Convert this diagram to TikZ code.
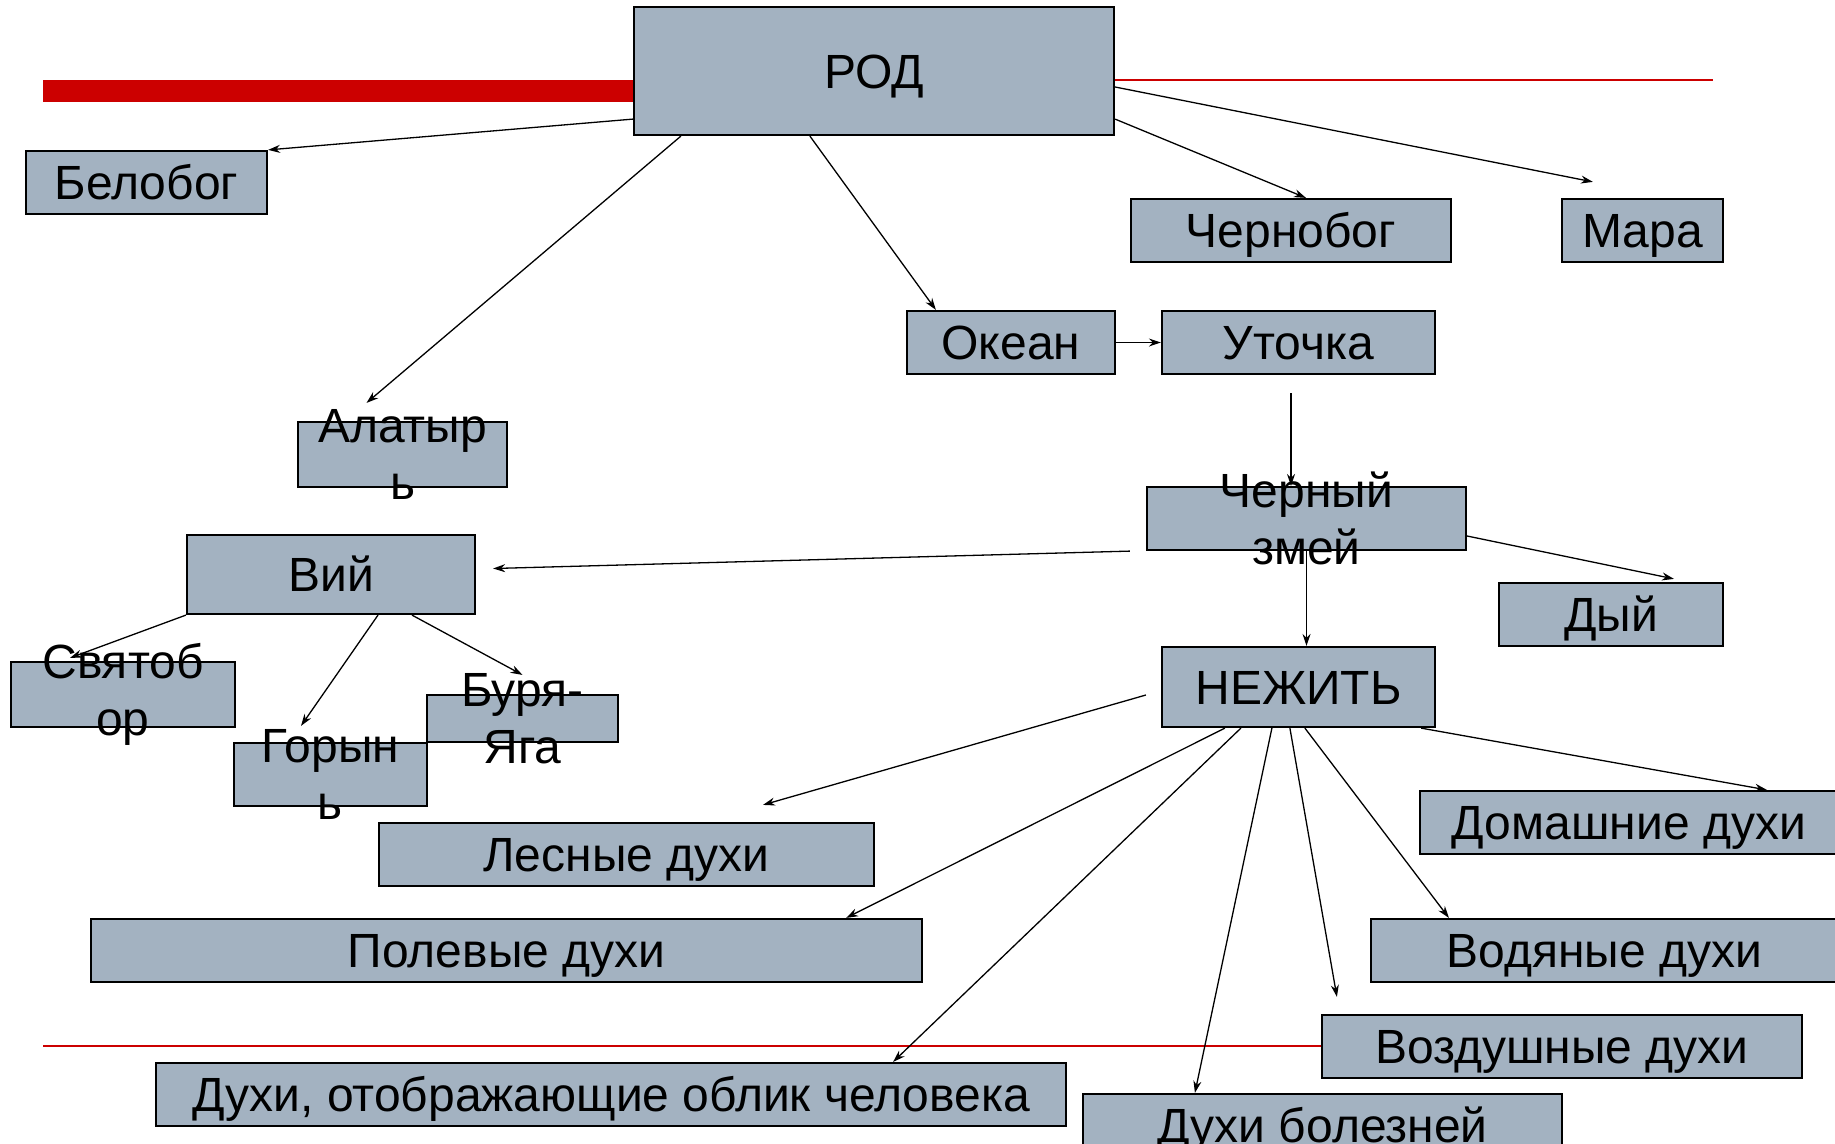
\documentclass[tikz,border=0pt]{standalone}
\usepackage{fontspec}
\setmainfont{Liberation Sans}
\usepackage{tikz}
\usetikzlibrary{arrows.meta,calc}
\definecolor{boxgray}{HTML}{A3B2C1}
\definecolor{slidered}{HTML}{CC0000}

\begin{document}
\begin{tikzpicture}[
    x=1pt, y=-1pt,
    every node/.style = {font=\fontsize{48}{57}\selectfont},
    box/.style = {draw, fill=boxgray, line width=2.2pt, inner sep=0pt, minimum height=63pt,
                  text height=34.5pt, text depth=0pt},
    wrap/.style = {align=center, inner sep=0pt},
    link/.style = {-{Stealth[length=12pt,width=8pt]}, line width=1.3pt}
  ]
  \useasboundingbox (0,0) rectangle (1835,1143);
  \fill[slidered] (43,80) rectangle (634,102);
  \draw[slidered, line width=2pt] (1114,80) -- (1713,80);
  \draw[slidered, line width=2pt] (43,1046) -- (1322,1046);

  \node[box, minimum width=480pt, minimum height=128pt] (rod) at (874,71) {РОД};
  \node[box, minimum width=241pt] (belobog) at (146.5,182.5) {Белобог};
  \node[box, minimum width=320pt] (chernobog) at (1291,230.5) {Чернобог};
  \node[box, minimum width=161pt] (mara) at (1642.5,230.5) {Мара};
  \node[box, minimum width=208pt] (okean) at (1011,342.5) {Океан};
  \node[box, minimum width=273pt] (utochka) at (1298.5,342.5) {Уточка};
  \node[box, minimum width=209pt, minimum height=65pt,
        label={[wrap]center:{Алатыр\\ь}}] (alatyr) at (402.5,454.5) {};
  \node[box, minimum width=288pt, minimum height=79pt] (viy) at (331,574.5) {Вий};
  \node[box, minimum width=319pt,
        label={[wrap]center:{Черный\\змей}}] (zmey) at (1306.5,518.5) {};
  \node[box, minimum width=224pt] (dyy) at (1611,614.5) {Дый};
  \node[box, minimum width=224pt, minimum height=65pt,
        label={[wrap]center:{Святоб\\ор}}] (svyatobor) at (123,694.5) {};
  \node[box, minimum width=193pt,
        label={[wrap]center:{Горын\\ь}}] (gorynb) at (330.5,774.5) {};
  \node[box, minimum width=191pt, minimum height=47pt,
        label={[wrap]center:{Буря-\\Яга}}] (buryaga) at (522.5,718.5) {};
  \node[box, minimum width=273pt, minimum height=80pt] (nezhit) at (1298.5,687) {НЕЖИТЬ};
  \node[box, minimum width=495pt] (lesnye) at (626.5,854.5) {Лесные духи};
  \node[box, minimum width=831pt] (polevye) at (506.5,950.5) {Полевые духи};
  \node[box, minimum width=418pt] (domashnie) at (1629,822.5) {Домашние духи};
  \node[box, minimum width=467pt] (vodyanye) at (1604.5,950.5) {Водяные духи};
  \node[box, minimum width=480pt] (vozdushnye) at (1562,1046.5) {Воздушные духи};
  \node[box, minimum width=910pt] (oblik) at (611,1094.5) {Духи, отображающие облик человека};
  \node[box, minimum width=479pt] (boleznei) at (1322.5,1125.5) {Духи болезней};

  \draw[link] ([yshift=17pt]rod.south west) -- (belobog.north east);
  \draw[link] ([xshift=48pt]rod.south west) -- ([xshift=-36pt,yshift=18pt]alatyr.north);
  \draw[link] ([xshift=177pt]rod.south west) -- ([xshift=30pt]okean.north west);
  \draw[link] ([yshift=17pt]rod.south east) -- ([xshift=15pt]chernobog.north);
  \draw[link] ([yshift=-16pt]rod.east) -- ([xshift=32pt,yshift=16pt]mara.north west);
  \draw[link] (okean.east) -- (utochka.west);
  \draw[link] ([xshift=-7.5pt,yshift=-18pt]utochka.south) -- ([xshift=-15.5pt]zmey.north);

  \draw[link] ([xshift=-16pt]zmey.south west) -- ([xshift=17pt,yshift=6pt]viy.east);
  \draw[link] ([yshift=-17.5pt]zmey.east) -- ([xshift=63pt,yshift=3pt]dyy.north);
  \draw[link] (zmey.south) -- (zmey.south |- nezhit.north);

  \draw[link] (viy.south west) -- ([xshift=-53pt,yshift=3pt]svyatobor.north);
  \draw[link] ([xshift=47pt]viy.south) -- ([xshift=-29.5pt,yshift=16pt]gorynb.north);
  \draw[link] ([xshift=81pt]viy.south) -- ([yshift=19pt]buryaga.north);

  \draw[link] ([xshift=-15pt,yshift=-8pt]nezhit.west) -- ([xshift=136.5pt,yshift=17pt]lesnye.north);
  \draw[link] ([xshift=64pt]nezhit.south west) -- ([xshift=-77pt]polevye.north east);
  \draw[link] ([xshift=80pt]nezhit.south west) -- ([xshift=-174pt]oblik.north east);
  \draw[link] ([xshift=111pt]nezhit.south west) -- ([xshift=113pt]boleznei.north west);
  \draw[link] ([xshift=129pt]nezhit.south west) -- ([xshift=16pt,yshift=17pt]vozdushnye.north west);
  \draw[link] ([xshift=144pt]nezhit.south west) -- ([xshift=79pt]vodyanye.north west);
  \draw[link] ([xshift=-15pt]nezhit.south east) -- ([xshift=348pt]domashnie.north west);
\end{tikzpicture}
\end{document}
